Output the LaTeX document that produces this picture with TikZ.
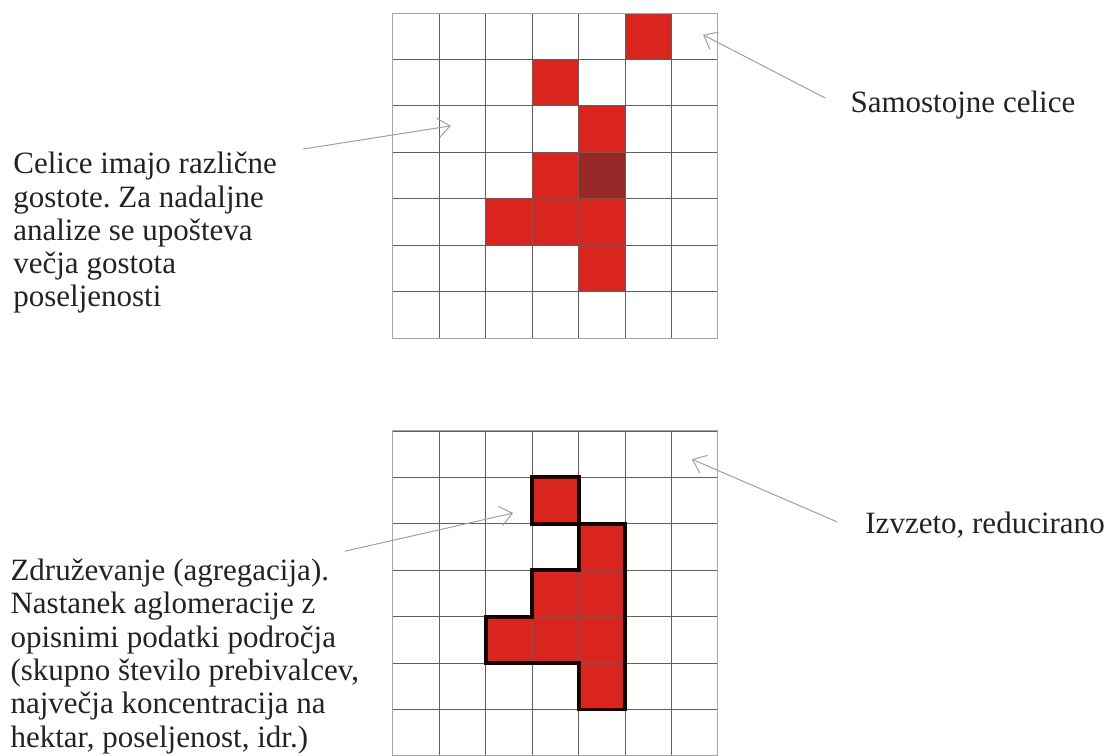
\documentclass[tikz,border=0pt]{standalone}
\usepackage{fontspec}
\setmainfont{Liberation Serif}
\usetikzlibrary{arrows.meta,positioning}
\frenchspacing

\definecolor{cellred}{RGB}{217,37,29}
\definecolor{celldark}{RGB}{150,40,40}
\definecolor{txtgray}{RGB}{35,35,35}

\begin{document}
\begin{tikzpicture}[
        cell/.style={fill=cellred},
        densecell/.style={fill=celldark},
        gridline/.style={draw=gray!75!black, line width=0.5pt},
        frameline/.style={draw=gray!70, line width=0.6pt},
        outline/.style={draw=black!90!red, line width=2.4pt, line join=miter},
        pointer/.style={draw=gray!75, line width=0.6pt, -{Straight Barb[length=2.6mm, width=4.2mm]}},
        note/.style={inner sep=0pt, align=left, text=txtgray, font=\rmfamily\fontsize{19}{20.4}\selectfont}]

    \useasboundingbox (-8.46,0) rectangle (15.38,16.28);

    % upper raster: cells of different density
    \foreach \x/\y in {5/15, 3/14, 4/13, 3/12, 2/11, 3/11, 4/11, 4/10}
        \fill[cell] (\x,\y) rectangle ++(1,1);
    \fill[densecell] (4,12) rectangle ++(1,1);
    \draw[gridline] (0,9) grid (7,16);
    \draw[frameline] (0,9) rectangle (7,16);

    % lower raster: aggregated cells
    \foreach \x/\y in {3/5, 4/4, 3/3, 4/3, 2/2, 3/2, 4/2, 4/1}
        \fill[cell] (\x,\y) rectangle ++(1,1);
    \draw[gridline] (0,0) grid (7,7);
    \draw[frameline] (0,0) rectangle (7,7);
    \draw[outline] (3,5) rectangle (4,6);
    \draw[outline] (4,5) -- (5,5) -- (5,1) -- (4,1) -- (4,2) -- (2,2) -- (2,3)
        -- (3,3) -- (3,4) -- (4,4) -- cycle;

    % labels (multi-line ones are placed by their last baseline)
    \node[note, anchor=base west] (alone) at (9.85,13.85) {Samostojne celice};
    \node[note, anchor=base west] (density) at (-8.18,9.67)
        {Celice imajo različne\\gostote. Za nadaljne\\analize se upošteva\\večja gostota\\poseljenosti};
    \node[note, anchor=base west] (reduced) at (10.17,4.80) {Izvzeto, reducirano};
    \node[note, anchor=base west] (aggr) at (-8.24,0.19)
        {Združevanje (agregacija).\\Nastanek aglomeracije z\\opisnimi podatki področja\\(skupno število prebivalcev,\\največja koncentracija na\\hektar, poseljenost, idr.)};

    % arrow ends
    \coordinate (aloneA) at (9.31,14.17);
    \coordinate (aloneB) at (6.68,15.53);
    \coordinate (densA) at (-1.93,13.07);
    \coordinate (densB) at (1.25,13.57);
    \coordinate (aggrA) at (-1.03,4.41);
    \coordinate (aggrB) at (2.59,5.23);
    \coordinate (redA) at (9.57,5.04);
    \coordinate (redB) at (6.44,6.39);

    \draw[pointer] (aloneA) -- (aloneB);
    \draw[pointer] (densA) -- (densB);
    \draw[pointer] (aggrA) -- (aggrB);
    \draw[pointer] (redA) -- (redB);
\end{tikzpicture}
\end{document}
